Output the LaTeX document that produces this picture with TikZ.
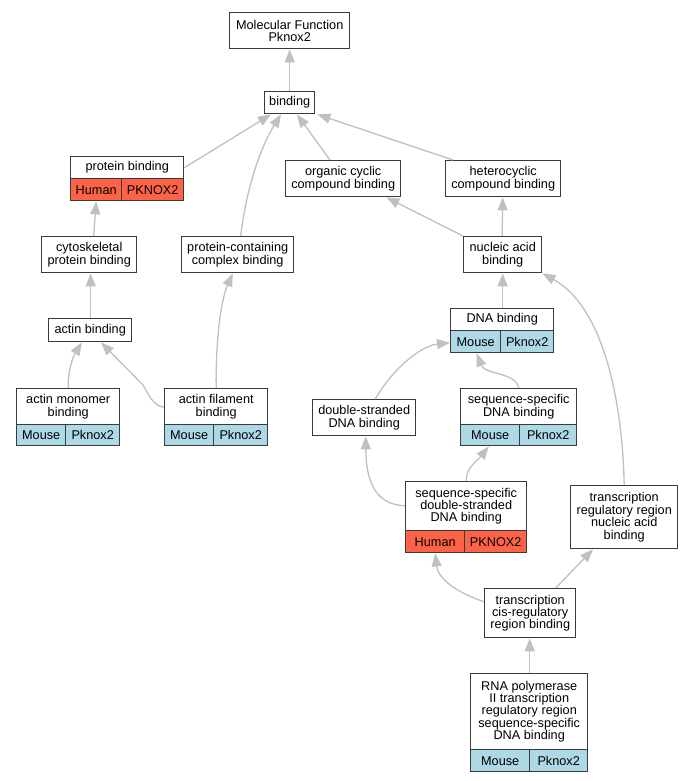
\documentclass[tikz,border=0pt]{standalone}
\usepackage{fontspec}
\setmainfont{Liberation Sans}
\usetikzlibrary{arrows.meta}
\definecolor{edgec}{HTML}{C0C0C0}
\definecolor{boxc}{HTML}{3A3A3A}
\definecolor{human}{HTML}{FF6347}
\definecolor{mouse}{HTML}{ADD8E6}
\newcommand\lblfont{\fontsize{12.7pt}{12.4pt}\selectfont}
\tikzset{
  box/.style={draw=boxc, line width=1.4pt, fill=white, inner sep=0pt, anchor=north west, align=center, font=\lblfont},
  hcell/.style={box, fill=human},
  mcell/.style={box, fill=mouse},
  edge/.style={draw=edgec, line width=1.3pt, -{Triangle[length=13pt,width=10pt]}}
}
\begin{document}
\begin{tikzpicture}[x=1pt,y=-1pt]
\fill[white] (0,0) rectangle (693,781);
\useasboundingbox (0,0) rectangle (693,781);

% edges first (under boxes)
\begin{scope}[on background layer/.style={}]
\end{scope}

% nodes
\node[box, minimum width=120pt, minimum height=36pt] (mf) at (229,12) {Molecular Function\\Pknox2};
\node[box, minimum width=50pt, minimum height=22pt] (bind) at (264,91) {binding};

\node[box, minimum width=113pt, minimum height=22pt] (pb) at (70,156) {protein binding};
\node[hcell, minimum width=51pt, minimum height=22pt] (pbh) at (70,178) {Human};
\node[hcell, minimum width=62pt, minimum height=22pt] (pbg) at (121,178) {PKNOX2};

\node[box, minimum width=115pt, minimum height=36pt] (org) at (285,160) {organic cyclic\\compound binding};
\node[box, minimum width=115pt, minimum height=36pt] (het) at (445,160) {heterocyclic\\compound binding};

\node[box, minimum width=95pt, minimum height=36pt] (cyto) at (41,236) {cytoskeletal\\protein binding};
\node[box, minimum width=112pt, minimum height=36pt] (pc) at (181,236) {protein-containing\\complex binding};
\node[box, minimum width=78pt, minimum height=36pt] (nuc) at (463,236) {nucleic acid\\binding};

\node[box, minimum width=103pt, minimum height=22pt] (dna) at (450,308) {DNA binding};
\node[mcell, minimum width=50pt, minimum height=22pt] (dnam) at (450,330) {Mouse};
\node[mcell, minimum width=53pt, minimum height=22pt] (dnag) at (500,330) {Pknox2};

\node[box, minimum width=83pt, minimum height=23pt] (ab) at (48,318) {actin binding};

\node[box, minimum width=103pt, minimum height=36pt] (am) at (16,388) {actin monomer\\binding};
\node[mcell, minimum width=49pt, minimum height=21pt] (amm) at (16,424) {Mouse};
\node[mcell, minimum width=54pt, minimum height=21pt] (amg) at (65,424) {Pknox2};

\node[box, minimum width=103pt, minimum height=36pt] (af) at (164,388) {actin filament\\binding};
\node[mcell, minimum width=49pt, minimum height=21pt] (afm) at (164,424) {Mouse};
\node[mcell, minimum width=54pt, minimum height=21pt] (afg) at (213,424) {Pknox2};

\node[box, minimum width=103pt, minimum height=36pt] (ds) at (312,399) {double-stranded\\DNA binding};

\node[box, minimum width=116pt, minimum height=36pt] (ss) at (460,388) {sequence-specific\\DNA binding};
\node[mcell, minimum width=59pt, minimum height=21pt] (ssm) at (460,424) {Mouse};
\node[mcell, minimum width=57pt, minimum height=21pt] (ssg) at (519,424) {Pknox2};

\node[box, minimum width=121pt, minimum height=49pt] (ssds) at (405,481) {sequence-specific\\double-stranded\\DNA binding};
\node[hcell, minimum width=59pt, minimum height=22pt] (ssdsh) at (405,530) {Human};
\node[hcell, minimum width=62pt, minimum height=22pt] (ssdsg) at (464,530) {PKNOX2};

\node[box, minimum width=107pt, minimum height=63pt] (trr) at (570,485) {transcription\\regulatory region\\nucleic acid\\binding};
\node[box, minimum width=91pt, minimum height=49pt] (cis) at (484,588) {transcription\\cis-regulatory\\region binding};

\node[box, minimum width=117pt, minimum height=76pt] (rna) at (470,673) {RNA polymerase\\II transcription\\regulatory region\\sequence-specific\\DNA binding};
\node[mcell, minimum width=59pt, minimum height=22pt] (rnam) at (470,749) {Mouse};
\node[mcell, minimum width=58pt, minimum height=22pt] (rnag) at (529,749) {Pknox2};

% edges
\draw[edge] (bind.north) -- (mf.south);
\draw[edge] (pb.east) -- ([xshift=7pt]bind.south west);
\draw[edge] ([xshift=3pt]pc.north) .. controls (246,190) and (260,148) .. ([xshift=17pt]bind.south west);
\draw[edge] ([xshift=45pt]org.north west) -- ([xshift=33pt]bind.south west);
\draw[edge] ([xshift=8pt]het.north west) -- ([xshift=2pt]bind.south east);
\draw[edge] ([xshift=4.5pt]cyto.north) -- (pbh.south);
\draw[edge] ([xshift=0.5pt]ab.north) -- ([xshift=0.5pt]ab.north |- cyto.south);
\draw[edge] (am.north) .. controls (67.5,370) and (74,355) .. ([xshift=34pt]ab.south west);
\draw[edge] ([yshift=-0.5pt]af.west) .. controls (153,406) and (149,395) .. (143,385) -- ([xshift=53pt]ab.south west);
\draw[edge] (af.north) .. controls (215.5,340) and (221,300) .. ([xshift=-5pt]pc.south);
\draw[edge] (nuc.north west) -- ([xshift=-15pt]org.south east);
\draw[edge] ([xshift=-0.5pt]nuc.north) -- (nuc.north |- het.south);
\draw[edge] ([xshift=0.5pt]dna.north) -- ([xshift=0.5pt]dna.north |- nuc.south);
\draw[edge] (trr.north) .. controls (622,390) and (600,305) .. (nuc.south east);
\draw[edge] ([xshift=11pt]ds.north) .. controls (392,370) and (420,346) .. ([yshift=-1pt]dnam.west);
\draw[edge] (ss.north) .. controls (516,372) and (485,375) .. ([xshift=1pt]dnam.south);
\draw[edge] ([yshift=0.5pt]ssds.west) .. controls (372,505) and (366,475) .. ([xshift=1.5pt]ds.south);
\draw[edge] (ssds.north) .. controls (465.5,468) and (478,460) .. ([xshift=-1.5pt]ssm.south);
\draw[edge] ([yshift=11.5pt]cis.west) .. controls (455,592) and (438,578) .. (ssdsh.south);
\draw[edge] ([xshift=25.5pt]cis.north) -- ([xshift=23pt]trr.south west);
\draw[edge] ([xshift=0.5pt]rna.north) -- ([xshift=0.5pt]rna.north |- cis.south);
\end{tikzpicture}
\end{document}
